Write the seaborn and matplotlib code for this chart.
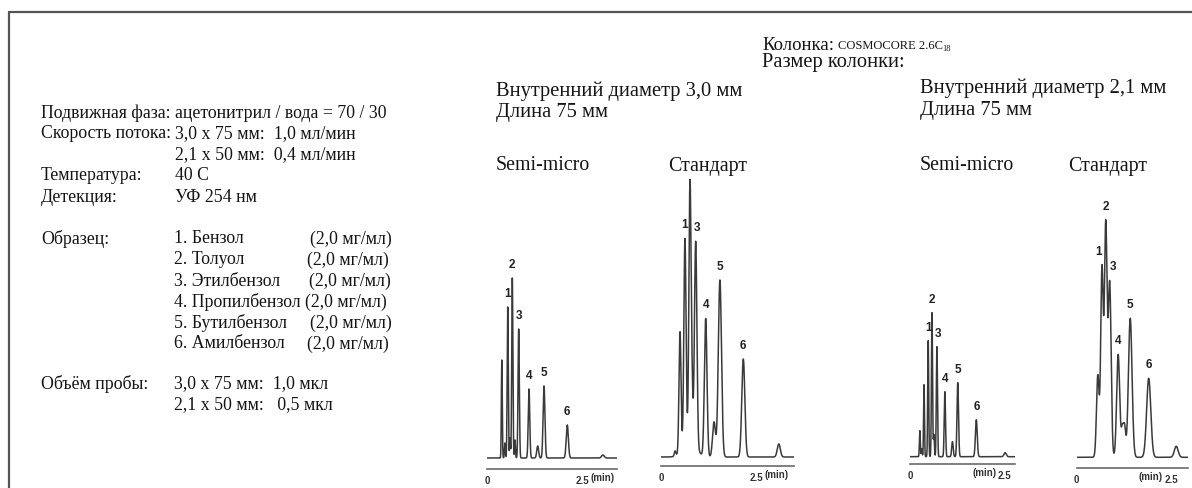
import numpy as np
import pandas as pd
import matplotlib
matplotlib.use("Agg")
import matplotlib.pyplot as plt
import seaborn as sns
from matplotlib.lines import Line2D

# ---------------- data ----------------
# peak retention times (min), heights (signal units) and widths (sigma, min)
sm30_times   = [0.39, 0.47, 0.545, 0.605, 0.666, 0.737, 0.834, 1.105, 1.334, 1.50, 2.113, 3.05]
sm30_heights = [98, 15, 151, 20, 180, 18, 129, 69, 12, 72, 33, 3]
sm30_sigmas  = [0.012, 0.012, 0.014, 0.012, 0.015, 0.012, 0.017, 0.020, 0.025, 0.024, 0.028, 0.035]
sm30_labels  = {2: "1", 4: "2", 6: "3", 7: "4", 9: "5", 10: "6"}

st30_times   = [0.37, 0.50, 0.63, 0.763, 0.816, 0.913, 1.176, 1.395, 1.55, 2.166, 3.10, 0.75]
st30_heights = [5, 120, 205, 258, 45, 205, 138, 35, 177, 98, 13, 18]
st30_sigmas  = [0.02, 0.026, 0.028, 0.028, 0.022, 0.032, 0.034, 0.038, 0.042, 0.040, 0.040, 0.16]
st30_labels  = {2: "1", 5: "3", 6: "4", 8: "5", 9: "6"}

sm21_times   = [0.26, 0.31, 0.37, 0.48, 0.58, 0.63, 0.71, 0.92, 1.12, 1.26, 1.75, 2.51]
sm21_heights = [26, 8, 72, 116, 144, 22, 110, 65, 15, 74, 37, 4]
sm21_sigmas  = [0.012, 0.012, 0.012, 0.013, 0.014, 0.013, 0.015, 0.017, 0.020, 0.020, 0.024, 0.030]
sm21_labels  = {3: "1", 4: "2", 6: "3", 7: "4", 9: "5", 10: "6"}

st21_times   = [0.56, 0.67, 0.77, 0.875, 1.10, 1.21, 1.27, 1.42, 1.91, 2.64]
st21_heights = [82, 188, 232, 174, 103, 27, 29, 139, 79, 11]
st21_sigmas  = [0.035, 0.033, 0.035, 0.038, 0.040, 0.030, 0.030, 0.048, 0.055, 0.050]
st21_labels  = {1: "1", 2: "2", 3: "3", 4: "4", 7: "5", 8: "6"}

tick_values = [0, 2.5]
tick_labels = ["0", "2.5"]

left_labels = ["Подвижная фаза:", "Скорость потока:", "", "Температура:", "Детекция:"]
left_values = ["ацетонитрил / вода = 70 / 30", "3,0 x 75 мм:  1,0 мл/мин",
               "2,1 x 50 мм:  0,4 мл/мин", "40 С", "УФ 254 нм"]
sample_names = ["1. Бензол", "2. Толуол", "3. Этилбензол", "4. Пропилбензол",
                "5. Бутилбензол", "6. Амилбензол"]
sample_conc = ["(2,0 мг/мл)"] * 6
volume_values = ["3,0 x 75 мм:  1,0 мкл", "2,1 x 50 мм:   0,5 мкл"]

# ---------------- layout ----------------
W, H = 1192, 489
sns.set_theme(style="white")
plt.rcParams["font.family"] = ["Liberation Serif", "DejaVu Serif"]
fig = plt.figure(figsize=(W / 100, H / 100), dpi=100)
fig.patch.set_facecolor("white")


def fx(x):
    return x / W


def fy(y):
    return 1 - y / H


TXT = "#141414"
LINE = "#3a3a3a"
AX = "#6a6a6a"

# border lines
fig.add_artist(Line2D([fx(9), fx(1192)], [fy(13), fy(13)], transform=fig.transFigure, color="#555555", lw=1.6))
fig.add_artist(Line2D([fx(9), fx(9)], [fy(13), fy(489)], transform=fig.transFigure, color="#555555", lw=1.6))

panels = [
    # data, x0, x_end, px/min, baseline_y, axis_y, top_y, min side, label dx
    (sm30_times, sm30_heights, sm30_sigmas, sm30_labels, 487, 617, 38.0, 459, 470, 180, "right", {}),
    (st30_times, st30_heights, st30_sigmas, st30_labels, 661, 794, 38.0, 458, 467, 180, "right", {5: 1}),
    (sm21_times, sm21_heights, sm21_sigmas, sm21_labels, 910, 1015, 37.9, 457.7, 465, 180, "left", {6: 1}),
    (st21_times, st21_heights, st21_sigmas, st21_labels, 1076.7, 1188, 37.7, 458.3, 469, 180, "left", {1: -3, 3: 3}),
]

for times, heights, sigmas, labels, x0, x1, sc, base, axy, top, side, ldx in panels:
    ax = fig.add_axes([fx(x0), fy(axy), (x1 - x0) / W, (axy - top) / H])
    t_end = (x1 - x0) / sc
    t = np.linspace(0, t_end, 6000)
    sig = np.zeros_like(t)
    for tp, hp, sp in zip(times, heights, sigmas):
        sig += hp * np.exp(-0.5 * ((t - tp) / sp) ** 2)
    df = pd.DataFrame({"t": t, "signal": sig})
    sns.lineplot(data=df, x="t", y="signal", ax=ax, color=LINE, lw=1.1,
                 estimator=None, sort=False)
    ax.set_xlim(0, t_end)
    ax.set_ylim(-(axy - base), base - top)
    ax.set_xlabel("")
    ax.set_ylabel("")
    ax.set_yticks([])
    ax.set_xticks(tick_values)
    ax.set_xticklabels(tick_labels, fontsize=7, fontweight="bold", family="Liberation Sans", color="#333333")
    ax.tick_params(axis="x", direction="inout", length=5, width=1, color=AX, pad=1.5)
    for s in ["top", "left", "right"]:
        ax.spines[s].set_visible(False)
    ax.spines["bottom"].set_color(AX)
    ax.spines["bottom"].set_linewidth(1.2)
    ax.patch.set_alpha(0)
    off = 20.5 if side == "right" else -20.5
    ax.annotate("(min)", xy=(2.5, 0), xycoords=("data", "axes fraction"),
                xytext=(off, -8), textcoords="offset pixels", ha="center", va="center",
                fontsize=7, fontweight="bold", family="Liberation Sans", color="#333333",
                annotation_clip=False)
    for idx, lab in labels.items():
        tp = times[idx]
        yv = sig[(t >= tp - 0.03) & (t <= tp + 0.03)].max()
        ax.annotate(lab, xy=(tp, yv), xytext=(ldx.get(idx, 0), 14), textcoords="offset pixels",
                    ha="center", va="center", fontsize=8.5, fontweight="bold",
                    family="Liberation Sans", color="#222222", annotation_clip=False)

# ---------------- texts ----------------
FS_L = 12.8
row_y = [113, 134, 155, 176, 197]
for lab, val, y in zip(left_labels, left_values, row_y):
    if lab:
        fig.text(fx(41), fy(y), lab, fontsize=FS_L, color=TXT, va="center", ha="left")
    fig.text(fx(175), fy(y), val, fontsize=FS_L, color=TXT, va="center", ha="left")

conc_x = [310, 307, 309, 305, 310, 307]
fig.text(fx(41), fy(239), "Образец:", fontsize=FS_L, color=TXT, va="center", ha="left")
for i, (nm, cc) in enumerate(zip(sample_names, sample_conc)):
    y = 239 + 21 * i
    fig.text(fx(174), fy(y), nm, fontsize=FS_L, color=TXT, va="center", ha="left")
    fig.text(fx(conc_x[i]), fy(y), cc, fontsize=FS_L, color=TXT, va="center", ha="left")

fig.text(fx(41), fy(384), "Объём пробы:", fontsize=FS_L, color=TXT, va="center", ha="left")
for i, v in enumerate(volume_values):
    fig.text(fx(174), fy(384 + 21 * i), v, fontsize=FS_L, color=TXT, va="center", ha="left")

FS_H = 14.8
FS_S = 14.3
renderer = fig.canvas.get_renderer()
t_col = fig.text(fx(762), fy(45), "Колонка:", fontsize=13.5, color=TXT, va="center", ha="left")
bb = t_col.get_window_extent(renderer)
t_cos = fig.text((bb.x1 + 4) / W, fy(46), "COSMOCORE 2.6C", fontsize=9, color=TXT, va="center", ha="left")
bb2 = t_cos.get_window_extent(renderer)
fig.text((bb2.x1 - 1) / W, fy(49), "18", fontsize=6, color=TXT, va="center", ha="left")
fig.text(fx(762), fy(62), "Размер колонки:", fontsize=FS_H, color=TXT, va="center", ha="left")

fig.text(fx(496), fy(91), "Внутренний диаметр 3,0 мм", fontsize=FS_H, color=TXT, va="center", ha="left")
fig.text(fx(496), fy(113), "Длина 75 мм", fontsize=FS_H, color=TXT, va="center", ha="left")
fig.text(fx(920), fy(88), "Внутренний диаметр 2,1 мм", fontsize=FS_H, color=TXT, va="center", ha="left")
fig.text(fx(920), fy(111), "Длина 75 мм", fontsize=FS_H, color=TXT, va="center", ha="left")

fig.text(fx(496), fy(166), "Semi-micro", fontsize=FS_S, color=TXT, va="center", ha="left")
fig.text(fx(668), fy(166), "Стандарт", fontsize=FS_S, color=TXT, va="center", ha="left")
fig.text(fx(920), fy(166), "Semi-micro", fontsize=FS_S, color=TXT, va="center", ha="left")
fig.text(fx(1068), fy(166), "Стандарт", fontsize=FS_S, color=TXT, va="center", ha="left")

fig.savefig("out.png", dpi=100, facecolor="white")
